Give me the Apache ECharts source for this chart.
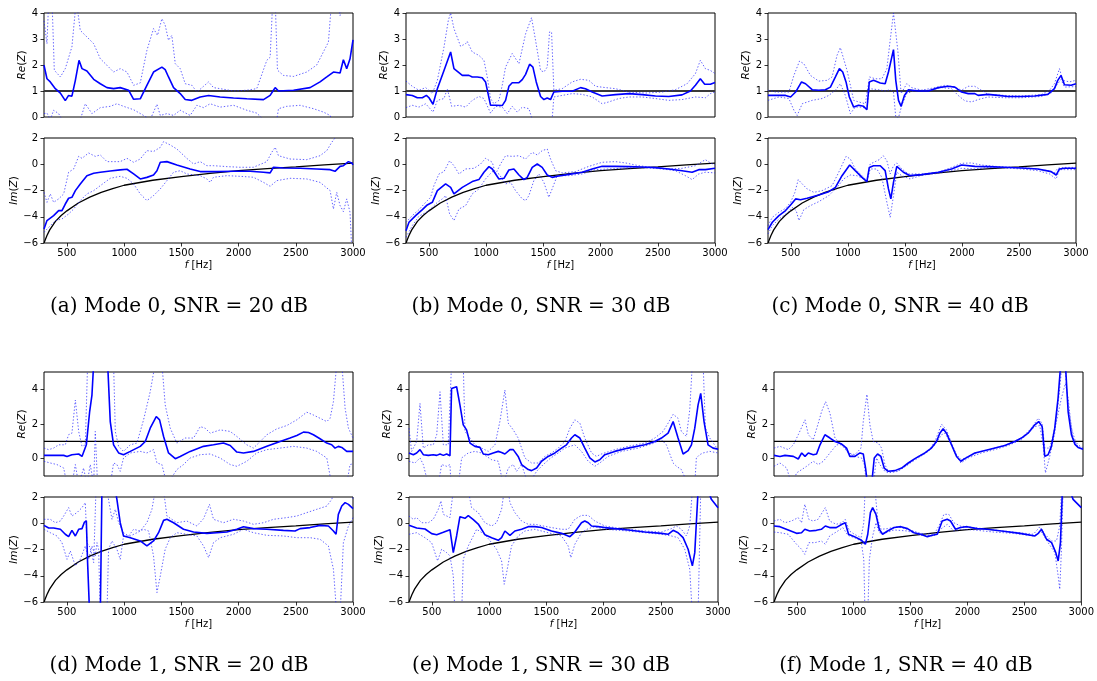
<!DOCTYPE html>
<html>
<head>
<meta charset="utf-8">
<script src="https://cdn.jsdelivr.net/npm/echarts@6/dist/echarts.min.js"></script>
<style>
html, body { margin: 0; padding: 0; background: #fff; }
#chart { width: 1097px; height: 681px; }
</style>
</head>
<body>
<div id="chart"></div>
<script>
// ---- axes ----
const F_MIN = 300, F_MAX = 3000;
const F_TICKS = [500, 1000, 1500, 2000, 2500, 3000];
const RE_TICKS_MODE0 = [0, 1, 2, 3, 4];
const RE_TICKS_MODE1 = [0, 2, 4];
const IM_TICKS = [-6, -4, -2, 0, 2];
const RE_RANGE_MODE0 = [0, 4];
const RE_RANGE_MODE1 = [-1, 5];
const IM_RANGE = [-6, 2];

const captions = [
  '(a) Mode 0, SNR = 20 dB', '(b) Mode 0, SNR = 30 dB', '(c) Mode 0, SNR = 40 dB',
  '(d) Mode 1, SNR = 20 dB', '(e) Mode 1, SNR = 30 dB', '(f) Mode 1, SNR = 40 dB'
];

// ---- reference impedance ----
const reRef = [[300, 1], [3000, 1]];
const imRef = [[300, -6], [325, -5.45], [350, -5.0], [400, -4.35], [450, -3.9], [500, -3.55],
  [600, -2.95], [700, -2.5], [800, -2.15], [900, -1.85], [1000, -1.6], [1250, -1.22],
  [1500, -0.95], [1750, -0.7], [2000, -0.48], [2250, -0.33], [2500, -0.2], [2750, -0.05], [3000, 0.08]];

// ---- (a) mode 0, 20 dB ----
const reA = [[300,1.99],[326,1.47],[355,1.35],[399,1.09],[443,0.92],[486,0.63],[515,0.83],[544,0.80],[574,1.41],[606,2.18],[632,1.86],[675,1.77],[734,1.45],[792,1.28],[850,1.13],[908,1.09],[966,1.13],[1039,1.03],[1083,0.68],[1141,0.70],[1199,1.22],[1257,1.73],[1330,1.92],[1359,1.82],[1388,1.54],[1432,1.13],[1490,0.90],[1534,0.67],[1592,0.64],[1665,0.77],[1738,0.83],[1839,0.77],[1956,0.73],[2072,0.70],[2218,0.67],[2276,0.83],[2305,1.03],[2320,1.13],[2349,1.00],[2480,1.03],[2625,1.13],[2712,1.35],[2771,1.54],[2829,1.73],[2887,1.69],[2916,2.20],[2945,1.86],[2974,2.24],[3000,2.97]];
const reA_hi = [[300,3.7],[326,2.82],[341,4.5],[370,4.5],[390,1.8],[443,1.54],[486,1.86],[544,2.7],[582,4.5],[617,3.33],[675,3.08],[734,2.82],[792,2.24],[850,1.99],[908,1.73],[966,1.86],[1025,1.73],[1083,1.22],[1141,1.31],[1199,2.56],[1257,3.4],[1292,3.14],[1330,3.78],[1359,3.53],[1388,2.95],[1417,3.14],[1447,2.05],[1490,1.86],[1534,1.28],[1592,1.22],[1636,0.96],[1694,1.18],[1738,1.35],[1781,1.13],[1839,1.09],[1956,1.0],[2072,1.03],[2159,1.09],[2247,2.18],[2276,2.3],[2299,4.5],[2320,4.5],[2340,1.8],[2392,1.6],[2480,1.56],[2596,1.73],[2683,2.0],[2785,2.88],[2814,4.5],[2858,4.5],[2887,3.9],[2916,4.5],[3000,4.5]];
const reA_lo = [[300,0.13],[326,0.15],[355,-0.1],[384,0.26],[428,0.13],[457,-0.1],[617,-0.1],[661,0.51],[719,0.13],[792,0.36],[879,0.41],[937,0.51],[995,0.41],[1083,0.28],[1170,0.06],[1228,-0.1],[1287,0.49],[1316,0.06],[1374,0.13],[1432,0.06],[1490,0.26],[1577,0.06],[1636,0.45],[1694,0.36],[1752,0.51],[1839,0.38],[1956,0.45],[2072,0.26],[2159,0.15],[2218,-0.1],[2334,-0.1],[2349,0.32],[2421,0.41],[2538,0.45],[2654,0.32],[2741,0.19],[2800,0.06],[2814,-0.1],[3000,-0.2]];
const imA = [[300,-4.93],[326,-4.29],[384,-3.91],[428,-3.53],[457,-3.53],[486,-3.03],[515,-2.59],[544,-2.52],[574,-2.01],[617,-1.50],[675,-0.87],[734,-0.69],[792,-0.61],[879,-0.51],[966,-0.43],[1025,-0.38],[1083,-0.74],[1141,-1.12],[1199,-1.0],[1257,-0.82],[1287,-0.49],[1316,0.15],[1374,0.2],[1461,-0.06],[1577,-0.36],[1665,-0.56],[1810,-0.56],[1956,-0.53],[2101,-0.53],[2218,-0.61],[2276,-0.66],[2305,-0.23],[2392,-0.28],[2538,-0.31],[2683,-0.36],[2800,-0.41],[2843,-0.54],[2887,-0.16],[2916,-0.11],[2960,0.2],[2989,0.1],[3000,-0.05]];
const imA_hi = [[300,-2.14],[326,-2.9],[355,-2.26],[384,-2.9],[428,-2.64],[472,-2.26],[515,-0.61],[559,-0.36],[603,0.6],[632,0.45],[690,0.86],[748,0.6],[792,0.71],[850,0.2],[966,0.2],[1025,0.45],[1083,0.15],[1141,0.4],[1199,1.04],[1257,0.97],[1316,1.29],[1345,1.72],[1403,1.47],[1461,1.16],[1548,0.45],[1607,0.02],[1665,0.2],[1723,-0.11],[1781,-0.11],[1898,-0.18],[2014,-0.23],[2130,-0.23],[2247,0.2],[2290,0.91],[2320,1.29],[2349,0.65],[2450,0.4],[2596,0.35],[2712,0.65],[2771,1.04],[2814,1.67],[2843,2.0],[2872,2.3],[3000,2.5]];
const imA_lo = [[300,-5.18],[355,-4.68],[399,-4.29],[457,-4.17],[515,-3.79],[559,-3.41],[617,-2.77],[675,-2.26],[734,-2.01],[792,-1.63],[879,-1.07],[966,-0.92],[1025,-1.07],[1083,-1.5],[1141,-2.26],[1199,-2.77],[1257,-2.39],[1316,-1.88],[1374,-1.25],[1432,-0.61],[1490,-0.49],[1548,-0.74],[1665,-0.87],[1723,-1.12],[1752,-1.38],[1781,-0.99],[1898,-0.87],[2014,-0.92],[2130,-0.99],[2218,-1.38],[2276,-1.68],[2334,-1.25],[2450,-1.07],[2596,-1.12],[2712,-1.38],[2800,-2.01],[2829,-3.41],[2858,-2.14],[2887,-3.15],[2916,-3.61],[2945,-2.64],[2974,-3.66],[2989,-6.5],[3000,-6.5]];

// ---- (b) mode 0, 30 dB ----
const reB = [[300,0.86],[355,0.83],[399,0.74],[443,0.74],[478,0.83],[501,0.74],[536,0.49],[574,1.09],[632,1.79],[690,2.5],[719,1.86],[792,1.6],[850,1.6],[879,1.54],[923,1.54],[966,1.51],[995,1.35],[1039,0.45],[1083,0.45],[1141,0.44],[1170,0.64],[1199,1.18],[1228,1.32],[1287,1.32],[1316,1.44],[1345,1.64],[1380,2.03],[1409,1.92],[1438,1.35],[1476,0.79],[1505,0.67],[1534,0.73],[1563,0.67],[1592,0.96],[1665,0.99],[1752,0.99],[1825,1.13],[1868,1.09],[1927,0.96],[2014,0.81],[2130,0.86],[2247,0.9],[2363,0.86],[2480,0.81],[2596,0.79],[2712,0.85],[2785,1.0],[2829,1.22],[2872,1.47],[2910,1.26],[2960,1.26],[3000,1.33]];
const reB_hi = [[300,1.38],[355,1.18],[413,1.03],[472,1.13],[530,0.9],[574,1.41],[632,2.69],[670,3.72],[690,4.0],[719,3.4],[777,2.72],[821,2.82],[835,2.91],[879,2.5],[937,2.37],[981,2.18],[1010,1.54],[1039,0.71],[1068,0.51],[1112,0.64],[1141,1.22],[1170,1.92],[1228,2.44],[1287,2.05],[1345,3.2],[1397,3.82],[1432,2.95],[1476,1.79],[1505,1.73],[1534,1.92],[1554,3.27],[1572,3.27],[1592,1.03],[1665,1.09],[1752,1.35],[1825,1.45],[1898,1.41],[1956,1.18],[2043,1.13],[2130,1.09],[2247,0.96],[2392,0.92],[2538,0.96],[2654,1.05],[2756,1.28],[2829,1.67],[2872,2.18],[2916,1.86],[2960,1.79],[3000,1.67]];
const reB_lo = [[300,0.36],[355,0.45],[413,0.38],[472,0.51],[536,0.19],[574,0.64],[632,0.71],[661,1.09],[699,0.41],[763,0.45],[821,0.38],[879,0.64],[937,0.79],[981,0.71],[1039,0.15],[1083,0.41],[1141,0.38],[1185,0.13],[1228,0.41],[1272,0.19],[1316,0.38],[1374,0.32],[1403,-0.1],[1577,-0.1],[1592,0.77],[1665,0.83],[1752,0.9],[1839,0.87],[1927,0.77],[2014,0.51],[2072,0.58],[2159,0.71],[2247,0.77],[2363,0.77],[2480,0.71],[2596,0.64],[2712,0.67],[2829,0.77],[2916,0.74],[2960,0.9],[3000,0.96]];
const imB = [[300,-5.06],[326,-4.42],[384,-3.91],[443,-3.46],[486,-3.1],[530,-2.9],[574,-2.01],[646,-1.5],[690,-1.76],[719,-2.26],[792,-1.76],[879,-1.32],[937,-1.17],[981,-0.61],[1025,-0.18],[1054,-0.36],[1112,-1.12],[1156,-1.07],[1199,-0.44],[1243,-0.36],[1287,-0.82],[1330,-1.17],[1359,-1.0],[1403,-0.24],[1447,0.02],[1490,-0.24],[1534,-0.82],[1577,-1.0],[1621,-0.92],[1723,-0.77],[1839,-0.61],[1927,-0.36],[2014,-0.16],[2130,-0.16],[2247,-0.18],[2363,-0.21],[2480,-0.26],[2596,-0.36],[2712,-0.49],[2800,-0.61],[2858,-0.41],[2916,-0.41],[3000,-0.31]];
const imB_hi = [[300,-4.42],[355,-3.91],[413,-3.46],[472,-2.9],[515,-2.52],[544,-1.63],[588,-0.74],[632,-0.56],[681,0.27],[719,-0.11],[763,-0.74],[821,-0.36],[894,-0.31],[952,0.02],[995,0.45],[1054,0.15],[1083,-0.74],[1126,0.02],[1170,0.65],[1228,0.6],[1287,0.65],[1345,0.4],[1403,0.91],[1447,0.71],[1490,1.04],[1534,1.16],[1563,0.4],[1607,-0.49],[1665,-0.66],[1781,-0.56],[1898,-0.16],[2014,0.15],[2130,0.2],[2218,0.1],[2334,-0.11],[2450,-0.24],[2596,-0.36],[2712,-0.31],[2829,-0.11],[2916,0.35],[2960,0.1],[3000,-0.05]];
const imB_lo = [[300,-5.56],[355,-4.68],[413,-3.96],[486,-3.61],[530,-3.28],[574,-2.9],[617,-2.64],[646,-2.39],[681,-3.79],[719,-4.29],[763,-3.41],[821,-3.15],[879,-2.26],[937,-1.88],[995,-1.12],[1054,-0.56],[1112,-0.74],[1170,-1.5],[1214,-1.38],[1257,-2.01],[1316,-2.64],[1345,-2.77],[1374,-2.39],[1417,-1.25],[1461,-0.74],[1505,-1.38],[1548,-2.52],[1577,-1.88],[1621,-0.87],[1723,-0.87],[1839,-0.74],[1956,-0.41],[2072,-0.36],[2189,-0.31],[2305,-0.26],[2421,-0.28],[2538,-0.36],[2654,-0.49],[2741,-0.87],[2800,-1.17],[2858,-0.74],[2916,-0.61],[3000,-0.66]];

// ---- (c) mode 0, 40 dB ----
const reC = [[300,0.83],[367,0.83],[454,0.83],[498,0.77],[542,0.96],[594,1.35],[629,1.28],[687,1.05],[745,1.03],[803,1.05],[847,1.15],[891,1.54],[926,1.86],[955,1.73],[984,1.35],[1013,0.77],[1051,0.38],[1094,0.45],[1138,0.41],[1167,0.28],[1188,1.35],[1225,1.41],[1284,1.31],[1327,1.28],[1356,1.73],[1400,2.59],[1420,1.41],[1444,0.64],[1467,0.41],[1496,0.83],[1531,1.05],[1618,1.0],[1706,1.0],[1793,1.13],[1880,1.18],[1938,1.15],[1997,0.96],[2055,0.9],[2113,0.9],[2142,0.83],[2229,0.87],[2317,0.83],[2404,0.79],[2520,0.79],[2637,0.81],[2753,0.87],[2811,1.09],[2840,1.41],[2869,1.6],[2899,1.24],[2957,1.22],[3000,1.28]];
const reC_hi = [[300,1.03],[367,0.96],[483,0.96],[527,1.6],[576,2.15],[614,2.05],[672,1.6],[745,1.38],[818,1.41],[862,1.54],[905,2.37],[934,2.67],[963,2.24],[993,1.79],[1022,1.22],[1051,0.64],[1094,0.58],[1153,0.51],[1190,1.54],[1240,1.47],[1298,1.47],[1342,1.86],[1371,2.95],[1400,4.0],[1415,3.97],[1438,2.56],[1467,0.9],[1516,1.28],[1560,1.13],[1647,1.03],[1764,1.13],[1851,1.22],[1938,1.15],[1997,1.03],[2055,1.18],[2113,1.18],[2171,1.03],[2229,0.87],[2375,0.83],[2520,0.81],[2695,0.86],[2768,1.03],[2811,1.28],[2855,1.86],[2884,1.41],[2942,1.35],[3000,1.41]];
const reC_lo = [[300,0.64],[396,0.77],[483,0.71],[527,0.26],[556,0.06],[600,0.51],[687,0.64],[774,0.71],[833,0.83],[891,1.03],[934,1.28],[978,0.83],[1022,0.13],[1065,0.38],[1124,0.38],[1167,0.32],[1188,1.09],[1269,1.05],[1327,1.0],[1371,1.05],[1400,0.96],[1420,0.0],[1444,-0.03],[1473,0.45],[1516,0.9],[1589,1.03],[1706,1.03],[1822,1.13],[1909,1.09],[1967,0.83],[2026,0.62],[2084,0.58],[2142,0.67],[2229,0.77],[2375,0.74],[2520,0.74],[2695,0.79],[2782,0.92],[2840,1.28],[2869,1.44],[2899,1.15],[3000,1.17]];
const imC = [[300,-4.98],[338,-4.42],[396,-3.91],[454,-3.53],[498,-3.1],[542,-2.64],[585,-2.7],[643,-2.59],[745,-2.34],[833,-2.09],[891,-1.76],[949,-0.87],[1016,-0.06],[1065,-0.49],[1124,-1.0],[1167,-1.32],[1188,-0.24],[1225,-0.11],[1284,-0.11],[1327,-0.49],[1356,-1.88],[1377,-2.64],[1400,-1.38],[1429,-0.16],[1487,-0.61],[1545,-0.87],[1647,-0.79],[1793,-0.61],[1909,-0.36],[1997,-0.06],[2113,-0.16],[2229,-0.18],[2375,-0.23],[2520,-0.28],[2666,-0.36],[2782,-0.56],[2826,-0.82],[2855,-0.36],[2899,-0.31],[3000,-0.31]];
const imC_hi = [[300,-4.68],[338,-4.04],[396,-3.66],[454,-3.36],[498,-2.9],[536,-2.14],[565,-1.17],[600,-1.5],[643,-1.88],[702,-2.14],[774,-2.01],[862,-1.63],[920,-0.61],[984,0.6],[1022,0.4],[1065,-0.36],[1124,-0.87],[1167,-1.25],[1196,0.02],[1240,0.2],[1275,0.35],[1310,0.65],[1342,0.27],[1371,-0.74],[1400,-0.11],[1429,0.1],[1473,-0.36],[1531,-0.74],[1647,-0.74],[1793,-0.61],[1909,-0.24],[1997,0.07],[2084,0.1],[2171,-0.06],[2317,-0.18],[2462,-0.24],[2608,-0.31],[2753,-0.49],[2811,-0.66],[2840,-0.31],[2899,-0.24],[3000,-0.24]];
const imC_lo = [[300,-5.31],[338,-4.68],[396,-4.17],[469,-3.71],[512,-3.28],[547,-3.53],[571,-4.29],[614,-3.46],[672,-3.15],[745,-2.85],[833,-2.39],[905,-1.76],[963,-1.12],[1022,-0.82],[1080,-0.87],[1138,-1.12],[1167,-1.32],[1196,-0.36],[1254,-0.36],[1298,-1.0],[1342,-2.9],[1371,-4.04],[1400,-2.39],[1429,-0.61],[1473,-0.87],[1545,-1.12],[1647,-0.84],[1793,-0.69],[1909,-0.49],[1997,-0.31],[2113,-0.36],[2229,-0.26],[2375,-0.28],[2520,-0.36],[2666,-0.49],[2768,-0.74],[2826,-1.12],[2855,-0.41],[2899,-0.41],[3000,-0.41]];

// ---- (d) mode 1, 20 dB ----
const reD = [[300,0.19],[384,0.19],[472,0.19],[501,0.13],[544,0.23],[603,0.27],[632,0.13],[646,0.19],[670,0.8],[699,2.72],[719,3.67],[734,5.5],[856,5.5],[879,2.14],[908,0.8],[952,0.33],[995,0.23],[1054,0.42],[1141,0.71],[1185,0.99],[1228,1.76],[1281,2.43],[1310,2.24],[1345,1.28],[1388,0.33],[1447,0.0],[1490,0.13],[1577,0.42],[1694,0.71],[1781,0.8],[1868,0.9],[1927,0.76],[1985,0.38],[2043,0.33],[2130,0.42],[2247,0.71],[2363,0.99],[2450,1.19],[2509,1.34],[2567,1.53],[2611,1.51],[2654,1.38],[2712,1.15],[2771,0.9],[2814,0.8],[2843,0.61],[2872,0.71],[2902,0.65],[2945,0.42],[3000,0.42]];
const reD_hi = [[300,0.61],[341,0.52],[384,0.61],[428,0.8],[486,0.8],[515,1.38],[544,1.47],[574,3.38],[603,1.57],[632,0.71],[661,0.8],[681,5.5],[908,5.5],[923,1.57],[952,0.71],[995,0.42],[1054,0.8],[1112,0.9],[1170,2.24],[1228,3.86],[1272,5.5],[1330,5.5],[1359,3.1],[1403,1.76],[1461,0.9],[1534,1.19],[1607,1.19],[1665,1.85],[1708,1.76],[1752,1.47],[1839,1.66],[1927,1.57],[1985,1.28],[2072,0.8],[2130,0.61],[2189,0.99],[2247,1.38],[2334,1.72],[2421,1.91],[2509,2.24],[2596,2.68],[2654,2.52],[2712,2.33],[2771,2.14],[2800,2.33],[2829,3.29],[2858,5.5],[2902,5.5],[2931,2.91],[2960,1.76],[3000,1.19]];
const reD_lo = [[300,-0.15],[355,-0.25],[413,-0.34],[472,-0.54],[501,-1.5],[544,-1.5],[574,-0.34],[603,-1.5],[646,-0.54],[675,-1.5],[704,-0.34],[734,-1.5],[748,1.57],[768,-1.5],[879,-1.5],[908,-0.25],[937,-0.34],[966,-0.73],[995,0.04],[1054,0.33],[1141,0.42],[1199,0.33],[1257,0.52],[1287,-0.25],[1330,-0.34],[1374,-1.5],[1461,-0.63],[1519,-0.34],[1577,0.04],[1665,0.23],[1752,0.27],[1839,0.04],[1927,-0.34],[1985,-0.44],[2072,-0.15],[2159,0.33],[2247,0.52],[2363,0.61],[2480,0.71],[2596,0.61],[2683,0.42],[2771,0.04],[2814,-1.5],[2945,-1.5],[2974,-0.34],[3000,-0.3]];
const imD = [[300,-0.16],[341,-0.36],[384,-0.36],[443,-0.46],[486,-0.84],[515,-1.02],[544,-0.54],[574,-0.97],[603,-0.46],[632,-0.41],[652,0.06],[670,0.19],[681,-3.0],[699,-7],[792,-7],[806,2.5],[923,2.5],[937,1.82],[966,0.04],[995,-0.97],[1054,-1.1],[1141,-1.35],[1199,-1.73],[1257,-1.35],[1301,-0.72],[1345,0.22],[1374,0.3],[1432,0.04],[1519,-0.46],[1607,-0.67],[1723,-0.77],[1810,-0.72],[1898,-0.67],[1985,-0.46],[2043,-0.26],[2130,-0.41],[2247,-0.46],[2392,-0.54],[2494,-0.59],[2538,-0.41],[2625,-0.33],[2712,-0.16],[2785,-0.21],[2829,-0.59],[2852,-0.84],[2872,0.68],[2902,1.31],[2931,1.57],[2960,1.44],[3000,1.11]];
const imD_hi = [[300,0.3],[355,0.3],[399,0.04],[443,0.17],[472,0.55],[515,1.19],[544,0.55],[588,0.81],[632,1.19],[661,1.57],[675,-1.48],[704,-1.86],[734,-3.0],[754,2.5],[850,2.5],[894,0.3],[923,1.06],[952,0.04],[995,-0.72],[1039,-0.97],[1083,-0.46],[1141,-0.59],[1199,0.04],[1243,1.06],[1272,2.5],[1345,2.5],[1374,0.55],[1461,0.04],[1548,0.17],[1636,-0.21],[1694,0.35],[1746,1.44],[1781,0.3],[1868,0.04],[1956,0.3],[2043,0.17],[2130,-0.08],[2218,0.04],[2305,0.3],[2421,0.43],[2509,0.55],[2596,0.81],[2683,1.06],[2771,1.31],[2814,1.82],[2843,2.5],[2989,2.5],[3000,1.82]];
const imD_lo = [[300,-0.46],[355,-0.72],[413,-0.97],[457,-1.48],[501,-2.75],[530,-2.11],[574,-3.25],[617,-2.75],[661,-1.73],[690,-2.75],[719,-1.73],[748,-2.49],[763,-1.48],[777,-1.98],[792,-7],[850,-7],[864,-1.98],[894,-1.35],[937,-1.98],[966,-2.75],[995,-0.97],[1054,-0.97],[1112,-0.72],[1170,-0.46],[1214,-0.59],[1257,-2.49],[1287,-5.28],[1316,-4.02],[1359,-1.98],[1403,-1.1],[1461,-0.72],[1548,-0.84],[1636,-0.97],[1694,-1.73],[1738,-2.62],[1781,-1.48],[1839,-1.1],[1956,-0.84],[2043,-0.46],[2130,-0.72],[2247,-0.92],[2392,-0.97],[2509,-1.1],[2625,-1.1],[2712,-1.22],[2785,-1.73],[2829,-3.5],[2858,-7],[2887,-7],[2916,-1.48],[2960,-0.21],[3000,0.43]];

// ---- (e) mode 1, 30 dB ----
const reE = [[300,0.33],[338,0.23],[367,0.33],[396,0.52],[425,0.23],[469,0.19],[512,0.23],[542,0.19],[571,0.27],[600,0.19],[629,0.27],[658,0.17],[672,4.05],[716,4.15],[745,3.1],[774,1.95],[803,1.66],[833,0.9],[876,0.71],[920,0.65],[949,0.27],[993,0.23],[1036,0.33],[1080,0.42],[1109,0.36],[1138,0.27],[1182,0.52],[1211,0.52],[1254,0.13],[1284,-0.34],[1342,-0.63],[1371,-0.69],[1415,-0.54],[1458,-0.15],[1516,0.13],[1575,0.33],[1633,0.61],[1676,0.8],[1720,1.19],[1749,1.38],[1793,1.19],[1836,0.61],[1880,0.04],[1924,-0.19],[1967,-0.06],[2011,0.23],[2098,0.42],[2215,0.61],[2360,0.8],[2448,0.99],[2506,1.19],[2564,1.47],[2608,2.14],[2651,1.19],[2695,0.27],[2739,0.46],[2768,0.8],[2797,1.76],[2826,3.1],[2849,3.77],[2878,2.14],[2913,0.8],[2957,0.61],[3000,0.55]];
const reE_hi = [[300,1.76],[323,0.42],[367,0.99],[396,3.19],[425,0.61],[469,0.8],[512,0.8],[542,1.38],[571,3.86],[600,0.8],[643,0.8],[672,5.5],[774,5.5],[789,1.57],[833,1.19],[876,0.8],[934,0.61],[993,0.42],[1051,0.8],[1094,2.14],[1138,3.96],[1167,2.05],[1211,1.66],[1254,1.19],[1313,0.04],[1371,-0.25],[1429,-0.25],[1487,0.13],[1545,0.33],[1604,0.61],[1662,0.99],[1706,1.76],[1749,2.24],[1793,2.05],[1836,1.19],[1895,0.33],[1938,0.13],[1982,0.27],[2098,0.52],[2215,0.71],[2360,0.9],[2448,1.19],[2520,1.57],[2564,2.05],[2608,2.56],[2651,2.33],[2680,1.57],[2724,1.28],[2753,2.81],[2776,5.5],[2870,5.5],[2890,1.76],[2928,1.19],[3000,0.52]];
const reE_lo = [[300,-0.15],[352,-0.25],[396,0.04],[425,-0.34],[469,-1.5],[556,-1.5],[585,-0.34],[629,-0.44],[658,-0.34],[667,-1.5],[731,-1.5],[760,0.04],[818,0.33],[876,0.42],[934,0.33],[978,0.13],[1022,-0.06],[1080,-0.15],[1124,-1.5],[1167,-0.54],[1211,-0.34],[1240,-0.73],[1284,-0.34],[1342,-1.5],[1415,-0.73],[1473,-0.34],[1531,0.0],[1604,0.33],[1662,0.61],[1706,0.71],[1749,0.8],[1807,0.42],[1866,-0.15],[1924,-0.44],[1967,-0.25],[2040,0.13],[2157,0.42],[2302,0.61],[2418,0.84],[2506,1.09],[2549,0.8],[2608,-0.25],[2637,-0.44],[2680,-0.63],[2739,-1.5],[2797,-1.5],[2811,0.04],[2840,0.23],[2870,0.33],[2928,0.42],[3000,0.33]];
const imE = [[300,-0.16],[367,-0.36],[440,-0.44],[498,-0.79],[542,-0.87],[600,-0.69],[658,-0.49],[687,-2.24],[716,-0.97],[745,0.5],[789,0.38],[818,0.58],[862,0.27],[905,-0.06],[963,-0.87],[1022,-1.1],[1080,-1.3],[1109,-1.1],[1138,-0.59],[1182,-0.92],[1225,-0.59],[1284,-0.46],[1342,-0.26],[1400,-0.26],[1458,-0.33],[1545,-0.59],[1633,-0.77],[1706,-1.02],[1749,-0.67],[1807,0.04],[1836,0.17],[1866,0.04],[1895,-0.21],[1953,-0.26],[2011,-0.33],[2098,-0.41],[2215,-0.51],[2360,-0.67],[2506,-0.77],[2564,-0.84],[2608,-0.54],[2651,-0.72],[2695,-1.1],[2739,-1.98],[2776,-3.25],[2797,-2.24],[2826,2.5],[2913,2.5],[2942,1.82],[3000,1.19]];
const imE_hi = [[300,0.55],[338,0.3],[367,0.43],[411,0.04],[469,0.04],[512,0.3],[556,1.06],[579,1.7],[600,0.68],[658,0.43],[687,2.5],[818,2.5],[847,1.19],[905,0.81],[963,0.04],[1022,-0.21],[1065,0.04],[1109,1.06],[1132,2.5],[1167,2.5],[1182,1.57],[1225,0.81],[1284,0.17],[1342,-0.08],[1400,-0.08],[1473,-0.21],[1545,-0.33],[1633,-0.46],[1691,-0.46],[1749,0.3],[1807,0.6],[1866,0.6],[1924,0.17],[2011,-0.21],[2098,-0.33],[2215,-0.46],[2360,-0.59],[2506,-0.67],[2593,-0.41],[2637,-0.21],[2680,-0.46],[2724,-0.97],[2753,-0.21],[2776,2.5],[3000,2.5]];
const imE_lo = [[300,-0.84],[367,-0.72],[440,-1.1],[498,-1.48],[550,-2.87],[585,-1.98],[629,-2.24],[658,-2.49],[687,-4.02],[702,-7],[760,-7],[774,-2.75],[818,-1.73],[891,-0.46],[963,-0.87],[1022,-1.48],[1065,-1.98],[1109,-2.87],[1132,-4.65],[1153,-3.76],[1196,-1.73],[1254,-0.97],[1313,-0.59],[1400,-0.46],[1516,-0.72],[1633,-0.97],[1691,-1.73],[1714,-2.62],[1749,-1.6],[1807,-0.72],[1866,-0.41],[1924,-0.26],[2011,-0.46],[2215,-0.59],[2360,-0.72],[2506,-0.84],[2593,-0.97],[2651,-1.1],[2709,-1.98],[2753,-3.5],[2776,-7],[2826,-7],[2849,2.5],[3000,2.5]];

// ---- (f) mode 1, 40 dB ----
const reF = [[300,0.19],[352,0.13],[396,0.19],[469,0.13],[512,-0.02],[542,0.33],[571,0.13],[600,0.33],[643,0.23],[672,0.27],[702,0.8],[745,1.38],[789,1.19],[833,0.99],[891,0.84],[934,0.61],[963,0.13],[1007,0.13],[1051,0.33],[1080,0.27],[1100,-0.54],[1118,-1.5],[1153,-1.5],[1176,0.04],[1205,0.27],[1234,0.13],[1263,-0.54],[1298,-0.73],[1356,-0.69],[1415,-0.54],[1473,-0.25],[1531,0.0],[1618,0.33],[1676,0.61],[1720,0.99],[1749,1.47],[1778,1.72],[1807,1.47],[1851,0.8],[1895,0.13],[1933,-0.15],[1967,0.0],[2055,0.33],[2171,0.52],[2317,0.76],[2404,0.99],[2462,1.19],[2520,1.47],[2579,1.95],[2613,2.14],[2643,1.85],[2666,0.13],[2695,0.23],[2724,0.71],[2753,1.76],[2782,3.48],[2806,5.5],[2846,5.5],[2870,2.72],[2899,1.38],[2928,0.84],[2957,0.65],[3000,0.55]];
const reF_hi = [[300,0.61],[352,0.71],[425,0.52],[469,0.8],[512,1.38],[571,2.24],[600,1.38],[643,1.09],[687,2.05],[716,2.72],[751,3.29],[789,2.62],[833,1.19],[891,0.8],[949,0.33],[1007,0.23],[1060,0.61],[1080,2.14],[1112,3.71],[1138,1.95],[1167,0.99],[1211,0.9],[1240,0.61],[1269,-0.34],[1298,-0.73],[1385,-0.69],[1473,-0.34],[1560,0.13],[1647,0.42],[1706,0.99],[1764,1.99],[1807,1.66],[1851,0.9],[1895,0.23],[1938,-0.06],[1997,0.13],[2113,0.42],[2229,0.61],[2346,0.84],[2462,1.19],[2549,1.76],[2608,2.33],[2643,2.04],[2666,0.61],[2709,0.61],[2739,1.38],[2768,2.14],[2811,3.48],[2846,4.34],[2870,3.48],[2899,1.76],[2942,0.8],[3000,0.52]];
const reF_lo = [[300,-0.44],[352,-0.25],[411,-0.54],[454,-1.5],[498,-0.82],[542,-0.63],[585,-0.44],[643,-0.15],[687,-0.34],[731,-0.15],[789,0.33],[847,0.8],[905,0.8],[949,0.33],[1007,0.13],[1065,0.04],[1089,-0.34],[1109,-1.5],[1167,-1.5],[1196,0.04],[1225,-0.34],[1269,-0.73],[1298,-0.82],[1385,-0.73],[1473,-0.31],[1560,0.04],[1647,0.42],[1706,0.8],[1764,1.38],[1793,1.47],[1836,0.99],[1880,0.33],[1933,-0.25],[1997,0.04],[2113,0.33],[2229,0.52],[2346,0.76],[2462,1.09],[2579,1.85],[2622,1.91],[2651,0.8],[2672,-0.82],[2709,0.13],[2753,1.47],[2797,4.05],[2817,5.5],[2840,5.5],[2870,3.1],[2913,1.19],[2957,0.8],[3000,0.61]];
const imF = [[300,-0.21],[352,-0.26],[425,-0.51],[498,-0.77],[542,-0.72],[571,-0.46],[614,-0.59],[672,-0.54],[716,-0.46],[751,-0.21],[789,-0.33],[847,-0.33],[897,-0.08],[926,0.04],[955,-0.84],[1007,-1.02],[1065,-1.27],[1103,-1.6],[1124,-0.84],[1147,0.81],[1167,1.19],[1196,0.68],[1225,-0.46],[1254,-0.84],[1298,-0.59],[1356,-0.33],[1415,-0.26],[1473,-0.41],[1531,-0.72],[1589,-0.84],[1647,-1.02],[1691,-0.92],[1735,-0.84],[1778,0.17],[1822,0.3],[1851,0.17],[1895,-0.46],[1938,-0.33],[1997,-0.26],[2084,-0.41],[2171,-0.46],[2317,-0.61],[2462,-0.77],[2593,-0.97],[2622,-0.77],[2651,-0.46],[2695,-1.22],[2739,-1.48],[2776,-2.24],[2797,-2.87],[2817,-1.48],[2834,2.5],[2899,2.5],[2928,1.82],[3000,1.19]];
const imF_hi = [[300,0.17],[352,0.3],[396,0.04],[454,0.17],[512,0.43],[542,0.04],[571,1.44],[606,0.3],[643,0.17],[687,0.3],[751,1.19],[789,0.17],[847,-0.08],[897,0.04],[926,0.3],[963,-0.59],[1007,-0.84],[1065,-1.1],[1089,0.04],[1100,2.5],[1188,2.5],[1211,0.3],[1240,-0.46],[1298,-0.41],[1385,-0.26],[1473,-0.46],[1589,-0.77],[1706,-0.84],[1749,-0.21],[1793,0.68],[1836,0.68],[1880,0.04],[1938,-0.21],[2055,-0.33],[2229,-0.51],[2404,-0.67],[2579,-0.84],[2637,-0.26],[2680,-0.84],[2739,-1.35],[2782,-1.35],[2811,-0.21],[2826,2.5],[3000,2.5]];
const imF_lo = [[300,-0.67],[352,-0.72],[425,-0.84],[498,-1.6],[542,-1.98],[571,-2.37],[606,-1.48],[658,-1.48],[716,-1.35],[751,-1.6],[789,-0.97],[847,-0.67],[905,-0.33],[949,-0.92],[1007,-1.1],[1065,-1.35],[1089,-2.75],[1100,-7],[1124,-7],[1138,-2.75],[1167,-0.97],[1196,0.04],[1225,-0.72],[1269,-0.77],[1356,-0.51],[1473,-0.59],[1589,-0.92],[1706,-0.97],[1764,-0.46],[1822,-0.08],[1880,-0.59],[1938,-0.46],[2055,-0.51],[2229,-0.67],[2404,-0.77],[2579,-0.97],[2651,-0.67],[2709,-1.48],[2768,-2.24],[2797,-4.02],[2811,-5.03],[2826,-1.98],[2840,2.5],[3000,2.5]];

// ---- panel wiring ----
const panels = [
  { re: [reA, reA_hi, reA_lo], im: [imA, imA_hi, imA_lo], mode: 0 },
  { re: [reB, reB_hi, reB_lo], im: [imB, imB_hi, imB_lo], mode: 0 },
  { re: [reC, reC_hi, reC_lo], im: [imC, imC_hi, imC_lo], mode: 0 },
  { re: [reD, reD_hi, reD_lo], im: [imD, imD_hi, imD_lo], mode: 1 },
  { re: [reE, reE_hi, reE_lo], im: [imE, imE_hi, imE_lo], mode: 1 },
  { re: [reF, reF_hi, reF_lo], im: [imF, imF_hi, imF_lo], mode: 1 }
];

// plot-area placement (pixels)
const COLS = [
  [[44, 309], [406, 309], [768, 308]],
  [[44, 309], [409, 309], [774, 309]]
];
const ROWS = [
  { reTop: 13, imTop: 138, capY: 307 },
  { reTop: 372, imTop: 497, capY: 666 }
];
const CAP_X = [[179, 541, 900], [179, 541, 906]];

const FONT = 'DejaVu Sans';
const plain = v => String(v).replace('-', '\u2212');

const grids = [], xAxes = [], yAxes = [], series = [], graphics = [];

function addAxes(idx, left, top, width, height, isIm, mode) {
  grids.push({ left, top, width, height, show: true, borderColor: '#000', borderWidth: 1, containLabel: false });
  xAxes.push({
    type: 'value', gridIndex: idx, min: F_MIN, max: F_MAX,
    axisLine: { show: false, onZero: false },
    axisTick: { show: isIm, length: 3.5, lineStyle: { color: '#000', width: 0.8 }, customValues: F_TICKS },
    axisLabel: { show: isIm, customValues: F_TICKS, margin: 5, color: '#000', fontFamily: FONT, fontSize: 10, formatter: plain },
    splitLine: { show: false },
    name: isIm ? '{i|f} [Hz]' : '',
    nameLocation: 'middle', nameGap: 17,
    nameTextStyle: { color: '#000', fontFamily: FONT, fontSize: 10,
      rich: { i: { fontStyle: 'italic', fontFamily: FONT, fontSize: 10, color: '#000' } } }
  });
  const range = isIm ? IM_RANGE : (mode === 0 ? RE_RANGE_MODE0 : RE_RANGE_MODE1);
  const ticks = isIm ? IM_TICKS : (mode === 0 ? RE_TICKS_MODE0 : RE_TICKS_MODE1);
  yAxes.push({
    type: 'value', gridIndex: idx, min: range[0], max: range[1],
    axisLine: { show: false, onZero: false },
    axisTick: { show: true, length: 3.5, lineStyle: { color: '#000', width: 0.8 }, customValues: ticks },
    axisLabel: { customValues: ticks, margin: 6, color: '#000', fontFamily: FONT, fontSize: 10, formatter: plain },
    splitLine: { show: false },
    name: isIm ? '{i|Im}({i|Z})' : '{i|Re}({i|Z})',
    nameLocation: 'middle', nameRotate: 90, nameGap: isIm ? 24 : 15,
    nameTextStyle: { color: '#000', fontFamily: FONT, fontSize: 10.5,
      rich: { i: { fontStyle: 'italic', fontFamily: FONT, fontSize: 10.5, color: '#000' } } }
  });
}

function addLines(idx, sets, ref, refStyle) {
  series.push({ type: 'line', xAxisIndex: idx, yAxisIndex: idx, data: ref, showSymbol: false,
    symbol: 'none', clip: true, silent: true, lineStyle: refStyle, z: 2 });
  [sets[1], sets[2]].forEach(d => series.push({ type: 'line', xAxisIndex: idx, yAxisIndex: idx,
    data: d, symbol: 'none', clip: true, silent: true, z: 3,
    lineStyle: { color: '#1f1fff', width: 1, type: [1.4, 1.9], opacity: 0.7 } }));
  series.push({ type: 'line', xAxisIndex: idx, yAxisIndex: idx, data: sets[0], symbol: 'none',
    clip: true, silent: true, z: 4, lineStyle: { color: '#0000ff', width: 1.6 } });
}

panels.forEach((p, k) => {
  const row = k < 3 ? 0 : 1, col = k % 3;
  const [left, width] = COLS[row][col];
  const r = ROWS[row];
  const reIdx = grids.length;
  addAxes(reIdx, left, r.reTop, width, 104, false, p.mode);
  addLines(reIdx, p.re, reRef, row === 0 ? { color: '#3a3a3a', width: 2 } : { color: '#000', width: 1.2 });
  const imIdx = grids.length;
  addAxes(imIdx, left, r.imTop, width, 105, true, p.mode);
  addLines(imIdx, p.im, imRef, { color: '#000', width: 1.3 });
  graphics.push({ type: 'text', x: CAP_X[row][col], y: r.capY,
    style: { text: captions[k], fill: '#000', font: '20px "DejaVu Serif"', align: 'center', verticalAlign: 'middle' } });
});

const chart = echarts.init(document.getElementById('chart'), null, { renderer: 'canvas' });
chart.setOption({
  backgroundColor: '#fff',
  animation: false,
  grid: grids,
  xAxis: xAxes,
  yAxis: yAxes,
  series: series,
  graphic: graphics
});
</script>
</body>
</html>
